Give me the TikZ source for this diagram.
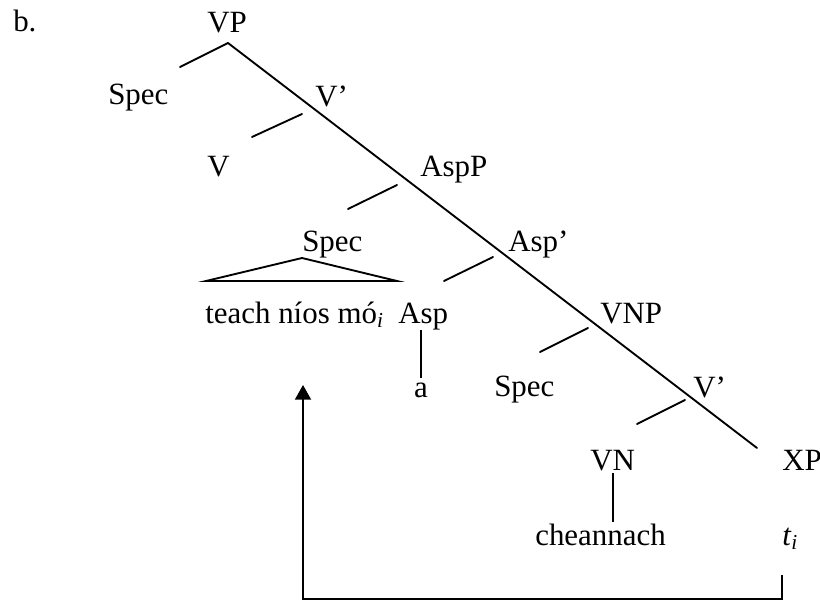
\documentclass[tikz,border=0pt]{standalone}
\usepackage{fontspec}
\setmainfont{Liberation Serif}
\usetikzlibrary{arrows.meta}
\newcommand{\subi}{\raisebox{-0.3ex}{\fontsize{16}{16}\selectfont\itshape i}}
\begin{document}
\begin{tikzpicture}[x=0.75pt,y=-0.75pt,
  lbl/.style={inner sep=0pt,anchor=base west,font=\fontsize{23.2}{27}\selectfont},
  edge/.style={line width=1.4pt,line cap=round},
  mv/.style={line width=1.4pt}]
\useasboundingbox (0,0) rectangle (820,602);
% labels
\node[lbl] (b) at (13,32) {b.};
\node[lbl] (vp) at (207,33) {VP};
\node[lbl] (spec1) at (108,105) {Spec};
\node[lbl] (vbar1) at (315,107) {V’};
\node[lbl] (v) at (207,177) {V};
\node[lbl] (aspp) at (420,177) {AspP};
\node[lbl] (spec2) at (302,251) {Spec};
\node[lbl] (aspbar) at (508,252) {Asp’};
\node[lbl] (teach) at (205,323) {teach níos mó\subi};
\node[lbl] (asp) at (398,323) {Asp};
\node[lbl,anchor=base] (a) at (421,397) {a};
\node[lbl] (vnp) at (600,323) {VNP};
\node[lbl] (spec3) at (494,396) {Spec};
\node[lbl] (vbar2) at (693,397) {V’};
\node[lbl] (vn) at (590,470) {VN};
\node[lbl] (xp) at (782,470) {XP};
\node[lbl] (cheann) at (535,545) {cheannach};
\node[lbl] (trace) at (782,545) {\textit{t}\subi};
% branch points
\coordinate (vptop) at (228,43);
\coordinate (xpend) at (757,448);
\coordinate (s1) at (180,67);
\coordinate (v1a) at (302,114);
\coordinate (v1b) at (252,137);
\coordinate (ap1) at (397,185);
\coordinate (ap2) at (348,209);
\coordinate (ab1) at (493,257);
\coordinate (ab2) at (444,281);
\coordinate (vnp1) at (588,328);
\coordinate (vnp2) at (540,352);
\coordinate (v2a) at (685,400);
\coordinate (v2b) at (637,424);
\coordinate (asptop) at (421,330);
\coordinate (aspbot) at (421,378);
\coordinate (vntop) at (613,473);
\coordinate (vnbot) at (613,522);
\coordinate (tri) at (302,258);
\coordinate (tril) at (206,281);
\coordinate (trir) at (397,281);
\coordinate (mv1) at (782,575);
\coordinate (mv2) at (782,599);
\coordinate (mv3) at (303,599);
\coordinate (mv4) at (303,385);
% tree
\draw[edge] (vptop) -- (xpend);
\draw[edge] (vptop) -- (s1);
\draw[edge] (v1a) -- (v1b);
\draw[edge] (ap1) -- (ap2);
\draw[edge] (ab1) -- (ab2);
\draw[edge] (vnp1) -- (vnp2);
\draw[edge] (v2a) -- (v2b);
\draw[line width=1.1pt] (asptop) -- (aspbot);
\draw[line width=1.1pt] (vntop) -- (vnbot);
\draw[edge,line join=miter] (tril) -- (tri) -- (trir) -- cycle;
% movement arrow
\draw[mv,-{Triangle[length=11pt,width=12pt]}] (mv1) -- (mv2) -- (mv3) -- (mv4);
\end{tikzpicture}
\end{document}
